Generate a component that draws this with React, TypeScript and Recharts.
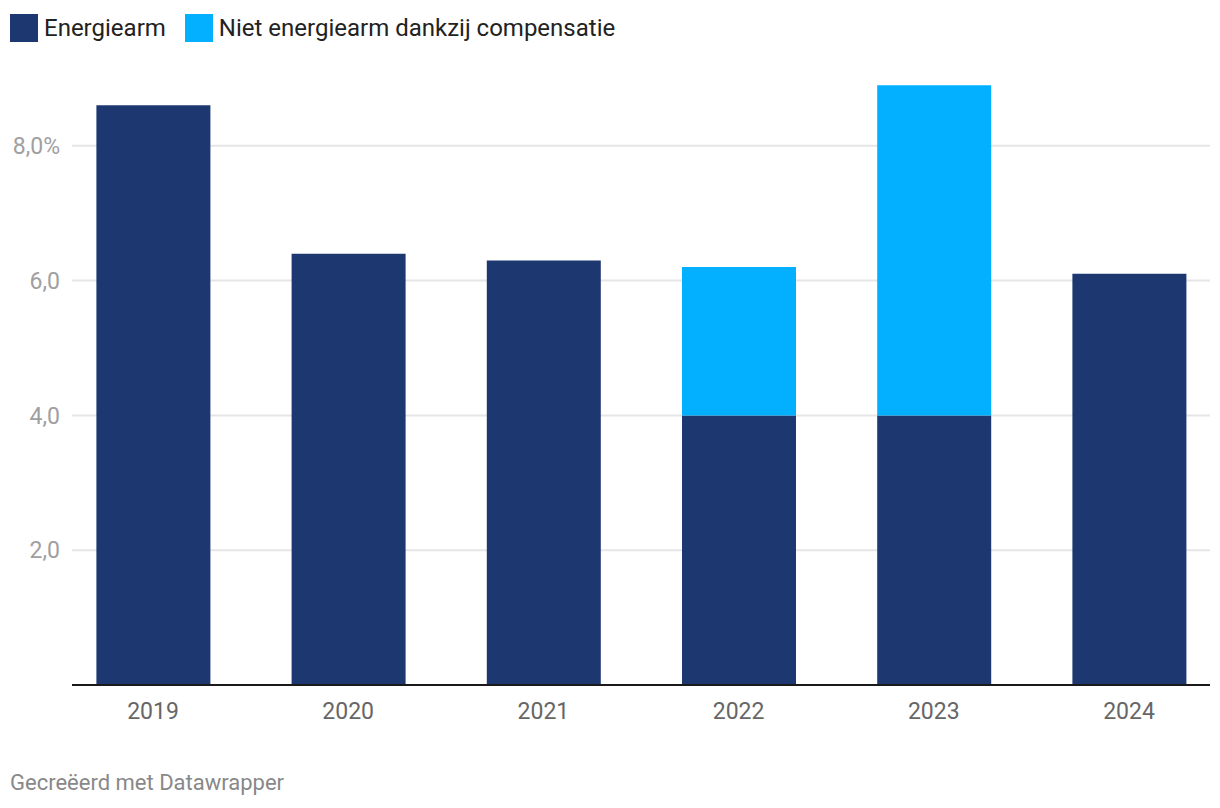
import React from "react";
import { BarChart, Bar, XAxis, YAxis, CartesianGrid } from "recharts";

const years = ["2019", "2020", "2021", "2022", "2023", "2024"];
const energiearm = [8.6, 6.4, 6.3, 4.0, 4.0, 6.1];
const nietEnergiearm = [0, 0, 0, 2.2, 4.9, 0];
const yTicks = [2, 4, 6, 8];
const seriesNames = ["Energiearm", "Niet energiearm dankzij compensatie"];
const seriesColors = ["#1d3870", "#02b0ff"];

const data = years.map((y, i) => ({
  year: y,
  a: energiearm[i],
  b: nietEnergiearm[i],
}));

const font = "Roboto, 'Noto Sans', sans-serif";

const fmt = (v: number) => {
  const s = v.toFixed(1).replace(".", ",");
  return v === 8 ? s + "%" : s;
};

export default function App() {
  return (
    <div
      style={{
        position: "absolute",
        left: 0,
        top: 0,
        width: 1220,
        height: 808,
        background: "#fff",
        fontFamily: font,
      }}
    >
      <div
        style={{
          position: "absolute",
          left: 10,
          top: 14,
          display: "flex",
          alignItems: "center",
          height: 28,
        }}
      >
        {seriesNames.map((n, i) => (
          <div key={n} style={{ display: "flex", alignItems: "center", marginRight: 19 }}>
            <div style={{ width: 28, height: 28, background: seriesColors[i], marginRight: 6 }} />
            <span style={{ fontSize: 24, color: "#222", whiteSpace: "nowrap" }}>{n}</span>
          </div>
        ))}
      </div>
      <div style={{ position: "absolute", left: 0, top: 0 }}>
        <BarChart
          width={1220}
          height={808}
          data={data}
          margin={{ top: 78.4, right: 10, left: 0, bottom: 83 }}
          barSize={114}
        >
          <CartesianGrid vertical={false} syncWithTicks stroke="#e6e6e6" strokeWidth={2} />
          <XAxis
            dataKey="year"
            padding={{ left: -16.6, right: -16.6 }}
            axisLine={{ stroke: "#1a1a1a", strokeWidth: 2 }}
            tickLine={false}
            tickMargin={12}
            height={40}
            tick={{ fill: "#666", fontSize: 23, fontFamily: font }}
          />
          <YAxis
            domain={[0, 9]}
            ticks={yTicks}
            width={72}
            axisLine={false}
            tickLine={false}
            tickMargin={6}
            tickFormatter={fmt}
            tick={{ fill: "#a0a0a0", fontSize: 23, fontFamily: font }}
          />
          <Bar dataKey="a" stackId="s" fill={seriesColors[0]} name={seriesNames[0]} isAnimationActive={false} />
          <Bar dataKey="b" stackId="s" fill={seriesColors[1]} name={seriesNames[1]} isAnimationActive={false} />
        </BarChart>
      </div>
      <div
        style={{
          position: "absolute",
          left: 10,
          top: 770,
          fontSize: 22,
          color: "#888",
          whiteSpace: "nowrap",
        }}
      >
        Gecreëerd met Datawrapper
      </div>
    </div>
  );
}
